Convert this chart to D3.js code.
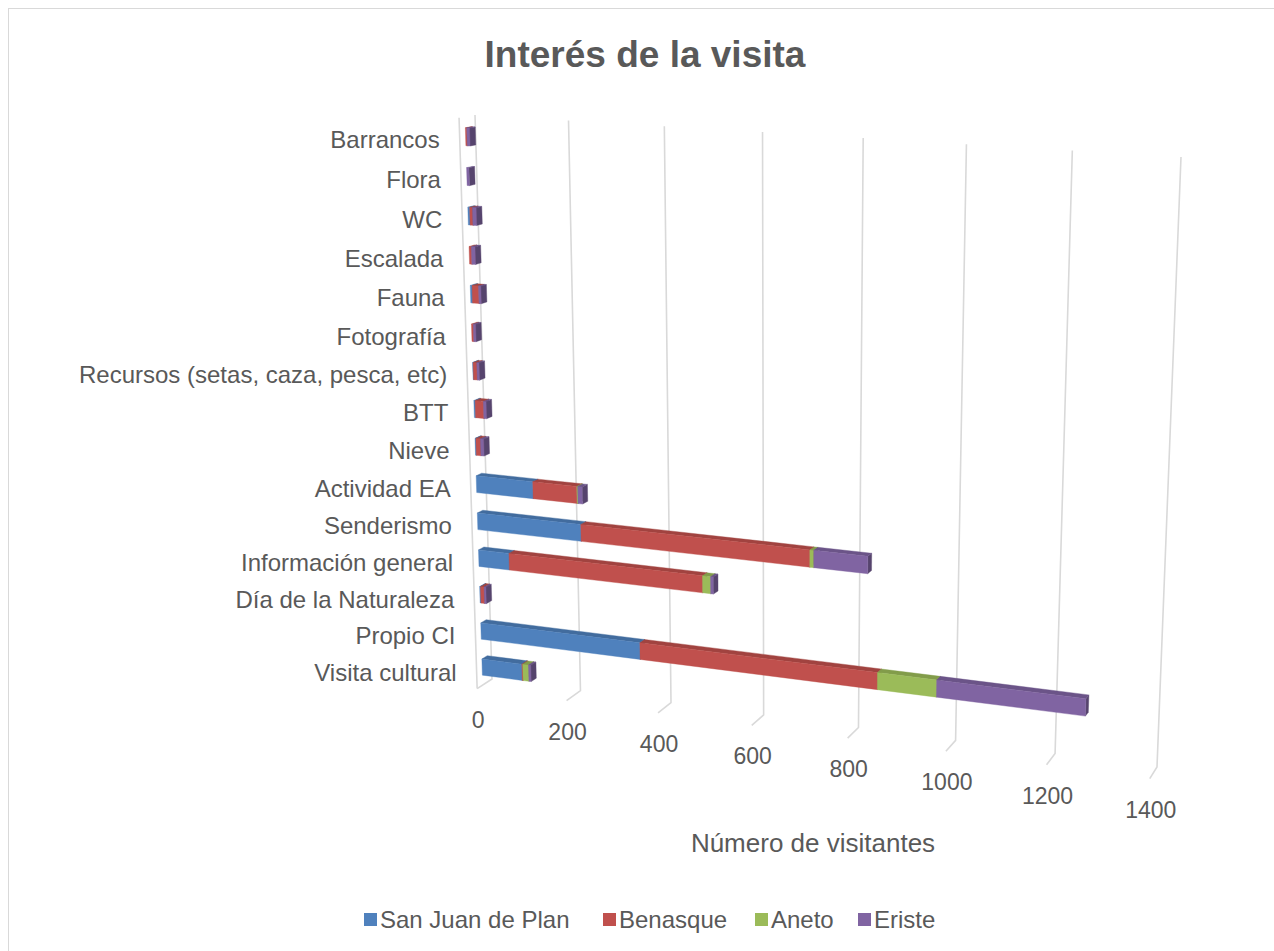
<!DOCTYPE html>
<html>
<head>
<meta charset="utf-8">
<script src="https://cdn.jsdelivr.net/npm/d3@7"></script>
<style>
body { margin: 0; background: #fff; }
text { font-family: "Liberation Sans", Arial, sans-serif; fill: #595959; }
</style>
</head>
<body>
<svg id="chart" width="1274" height="951"></svg>
<script>
// categories top -> bottom as they appear on the chart
var categories = ["Barrancos", "Flora", "WC", "Escalada", "Fauna", "Fotografía",
    "Recursos (setas, caza, pesca, etc)", "BTT", "Nieve", "Actividad EA", "Senderismo",
    "Información general", "Día de la Naturaleza", "Propio CI", "Visita cultural"];
var seriesNames = ["San Juan de Plan", "Benasque", "Aneto", "Eriste"];
var sanJuan  = [0, 0, 4, 0, 4, 0, 1, 3, 2, 125, 228, 68, 2, 352, 90];
var benasque = [3, 0, 6, 5, 14, 4, 8, 18, 10, 96, 484, 420, 8, 500, 2];
var aneto    = [0, 0, 0, 0, 0, 0, 0, 0, 0, 2, 8, 17, 0, 120, 13];
var eriste   = [6, 5, 8, 8, 5, 5, 5, 6, 7, 10, 110, 6, 4, 295, 5];
var tickValues = [0, 200, 400, 600, 800, 1000, 1200, 1400];

var colors = ["#4f81bd", "#c0504d", "#9bbb59", "#8064a2"];

var svg = d3.select("svg#chart");

svg.append("rect")
    .attr("x", 8.5).attr("y", 8.5)
    .attr("width", 1300).attr("height", 1000)
    .attr("fill", "none").attr("stroke", "#d9d9d9");

// back wall corners (0,top) (max,top) (max,bottom) (0,bottom)
var wall = [[475, 115], [1181, 157], [1157, 767], [492, 679]];
// vanishing point of the depth direction and its weight
var vp = [1700, -100], k = -0.01285;

function quadMap(q) {
    var sx = q[0][0] - q[1][0] + q[2][0] - q[3][0],
        sy = q[0][1] - q[1][1] + q[2][1] - q[3][1],
        dx1 = q[1][0] - q[2][0], dx2 = q[3][0] - q[2][0],
        dy1 = q[1][1] - q[2][1], dy2 = q[3][1] - q[2][1],
        den = dx1 * dy2 - dx2 * dy1,
        g = (sx * dy2 - dx2 * sy) / den,
        h = (dx1 * sy - sx * dy1) / den;
    return {
        a: q[1][0] - q[0][0] + g * q[1][0], b: q[3][0] - q[0][0] + h * q[3][0], c: q[0][0],
        d: q[1][1] - q[0][1] + g * q[1][1], e: q[3][1] - q[0][1] + h * q[3][1], f: q[0][1],
        g: g, h: h
    };
}
var H = quadMap(wall);

// u: value (0..1), v: category position (0 top..1 bottom), z: depth (0 back..1 front)
function proj(u, v, z) {
    var X = H.a * u + H.b * v + H.c + z * k * vp[0],
        Y = H.d * u + H.e * v + H.f + z * k * vp[1],
        W = H.g * u + H.h * v + 1 + z * k;
    return [X / W, Y / W];
}

var x = d3.scaleLinear().domain([0, 1400]).range([0, 1]);
var y = d3.scaleBand().domain(categories).range([0, 1])
    .paddingInner(0.55).paddingOuter(0.275);

var line = d3.line();
var grid = svg.append("g")
    .attr("fill", "none").attr("stroke", "#d9d9d9").attr("stroke-width", 1.6);

// back wall + floor gridlines
tickValues.forEach(function (t) {
    var u = x(t);
    grid.append("path").attr("d", line([proj(u, 0, 0), proj(u, 1, 0), proj(u, 1, 1)]));
});
// front edge of the category axis
grid.append("path").attr("d", line([proj(0, 0, 1), proj(0, 1, 1)]));

// stacked bars
var table = categories.map(function (c, i) {
    return { cat: c, s0: sanJuan[i], s1: benasque[i], s2: aneto[i], s3: eriste[i] };
});
var stack = d3.stack().keys(["s0", "s1", "s2", "s3"]);
var layers = stack(table);

var zf = 0.63, zb = 0.27;
var bars = svg.append("g");
categories.forEach(function (c, ci) {
    var vt = y(c), vb = vt + y.bandwidth();
    layers.forEach(function (layer, si) {
        var d0 = layer[ci][0], d1 = layer[ci][1];
        if (d1 <= d0) return;
        var u0 = x(d0), u1 = x(d1);
        var base = d3.color(colors[si]);
        var faces = [
            { pts: [proj(u1, vt, zf), proj(u1, vt, zb), proj(u1, vb, zb), proj(u1, vb, zf)], col: base.darker(1.1) },
            { pts: [proj(u0, vt, zf), proj(u1, vt, zf), proj(u1, vt, zb), proj(u0, vt, zb)], col: base.darker(0.5) },
            { pts: [proj(u0, vt, zf), proj(u1, vt, zf), proj(u1, vb, zf), proj(u0, vb, zf)], col: base }
        ];
        faces.forEach(function (f) {
            bars.append("path")
                .attr("d", line(f.pts) + "Z")
                .attr("fill", f.col)
                .attr("stroke", f.col)
                .attr("stroke-width", 0.4);
        });
    });
});

// category labels
svg.append("g").selectAll("text")
    .data(categories)
    .enter()
    .append("text")
    .attr("x", function (d) { return proj(0, y(d) + y.bandwidth() / 2, 1)[0] - 20; })
    .attr("y", function (d) { return proj(0, y(d) + y.bandwidth() / 2, 1)[1] + 10; })
    .attr("text-anchor", "end")
    .style("font-size", "24px")
    .text(function (d) { return d; });

// value tick labels
svg.append("g").selectAll("text")
    .data(tickValues)
    .enter()
    .append("text")
    .attr("x", function (d) { return proj(x(d), 1, 1)[0] + 1; })
    .attr("y", function (d) { return proj(x(d), 1, 1)[1] + 39; })
    .attr("text-anchor", "middle")
    .style("font-size", "23px")
    .text(function (d) { return d; });

svg.append("text")
    .attr("x", 813).attr("y", 852)
    .attr("text-anchor", "middle")
    .style("font-size", "26px")
    .text("Número de visitantes");

svg.append("text")
    .attr("x", 645).attr("y", 67)
    .attr("text-anchor", "middle")
    .style("font-size", "37px")
    .style("font-weight", "bold")
    .text("Interés de la visita");

// legend
var legendX = [364, 603, 755, 858];
var legend = svg.append("g");
seriesNames.forEach(function (name, i) {
    legend.append("rect")
        .attr("x", legendX[i]).attr("y", 913)
        .attr("width", 13).attr("height", 13)
        .attr("fill", colors[i]);
    legend.append("text")
        .attr("x", legendX[i] + 16).attr("y", 928)
        .style("font-size", "24px")
        .text(name);
});
</script>
</body>
</html>
